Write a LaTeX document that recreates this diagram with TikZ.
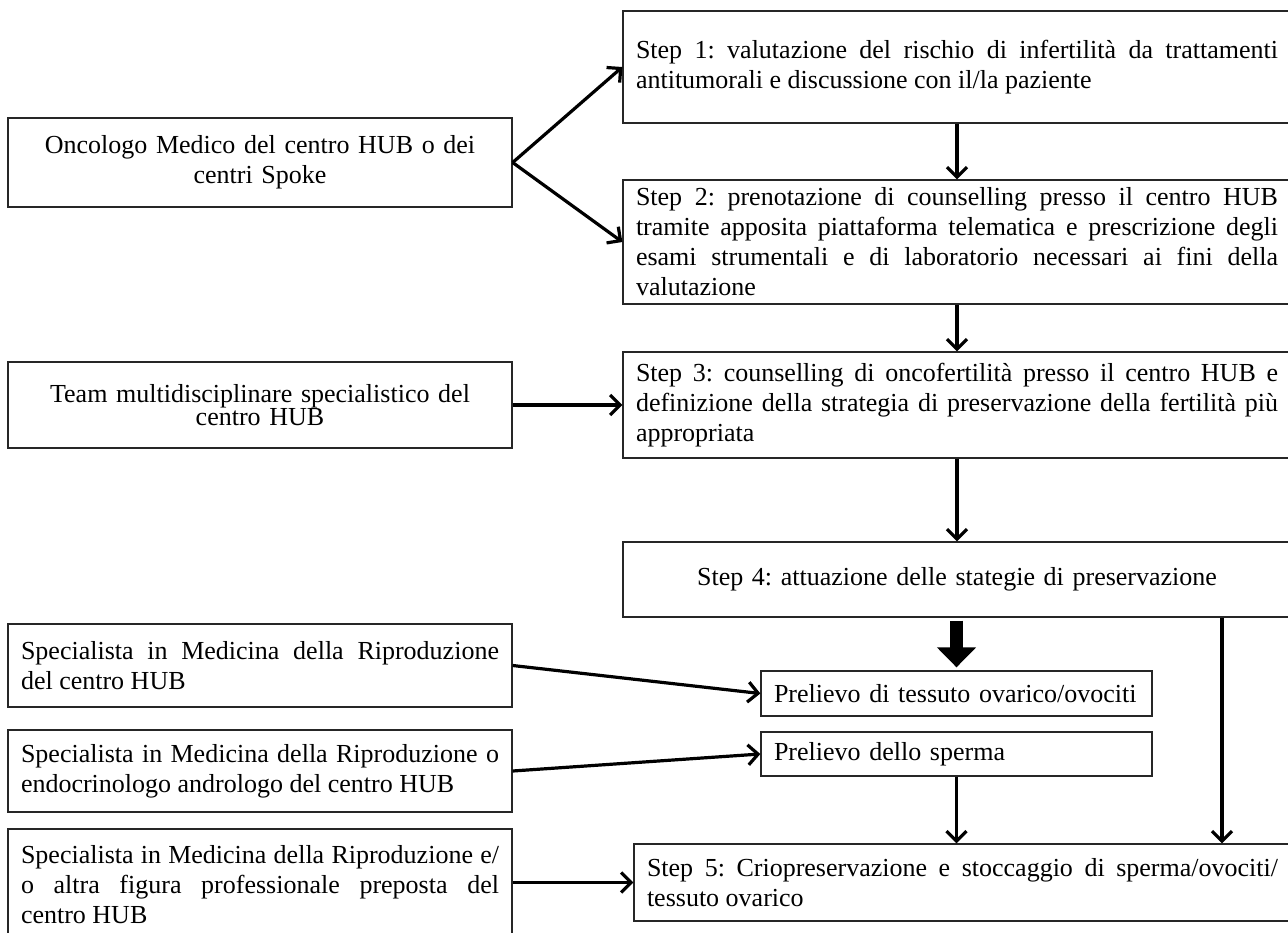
\documentclass[tikz,border=0pt]{standalone}
\usepackage{fontspec}
\setmainfont{Liberation Serif}
\usetikzlibrary{arrows.meta}
\frenchspacing

\begin{document}
\begin{tikzpicture}[x=1pt,y=-1pt,>={Straight Barb[length=10pt,width=20pt]},
  every node/.style={font=\fontsize{26}{30}\selectfont},
  box/.style={draw=black!85,line width=1.3pt,inner xsep=13pt,inner ysep=0pt,align=justify},
  arr/.style={->,line width=3.2pt}]
  \useasboundingbox (0,0) rectangle (1288,932);
  % steps
  \node[box,text width=642pt,minimum height=112pt] (step1) at (957,67)
    {Step 1: valutazione del rischio di infertilità da trattamenti\linebreak antitumorali e discussione con il/la paziente};
  \node[box,text width=642pt,minimum height=124pt] (step2) at (957,242)
    {Step 2: prenotazione di counselling presso il centro HUB\linebreak tramite apposita piattaforma telematica e prescrizione degli\linebreak esami strumentali e di laboratorio necessari ai fini della\linebreak valutazione};
  \node[box,text width=642pt,minimum height=106pt] (step3) at (957,405)
    {Step 3: counselling di oncofertilità presso il centro HUB e\linebreak definizione della strategia di preservazione della fertilità più\linebreak appropriata};
  \node[box,align=center,text width=642pt,minimum height=75pt] (step4) at (957,579.5)
    {Step 4: attuazione delle stategie di preservazione};
  \node[box,align=left,text width=365pt,minimum height=45pt] (prel1) at (956.5,693.5)
    {Prelievo di tessuto ovarico/ovociti};
  \node[box,align=left,text width=365pt,minimum height=44pt] (prel2) at (956.5,754)
    {Prelievo dello sperma};
  \node[box,text width=631pt,minimum height=77pt] (step5) at (962.5,882.5)
    {Step 5: Criopreservazione e stoccaggio di sperma/ovociti/\linebreak tessuto ovarico};
  % figures on the left
  \node[box,align=center,text width=478pt,minimum height=89pt] (onc) at (260,162.5)
    {Oncologo Medico del centro HUB o dei\\centri Spoke};
  \node[box,align=center,text width=478pt,minimum height=86pt,font=\fontsize{26}{22}\selectfont] (team) at (260,405)
    {Team multidisciplinare specialistico del\\centro HUB};
  \node[box,text width=478pt,minimum height=83pt] (spec1) at (260,665.5)
    {Specialista in Medicina della Riproduzione\linebreak del centro HUB};
  \node[box,text width=478pt,minimum height=82pt] (spec2) at (260,771)
    {Specialista in Medicina della Riproduzione o\linebreak endocrinologo andrologo del centro HUB};
  \node[box,text width=478pt,minimum height=111pt] (spec3) at (260,884.5)
    {Specialista in Medicina della Riproduzione e/\linebreak o altra figura professionale preposta del\linebreak centro HUB};
  \coordinate (s4r) at ([xshift=265pt]step4.south);
  % connectors
  \draw[arr] (onc.east) -- (step1.west);
  \draw[arr] (onc.east) -- (step2.west);
  \draw[arr] (step1.south) -- (step2.north);
  \draw[arr] (step2.south) -- (step3.north);
  \draw[arr] (team.east) -- (step3.west);
  \draw[arr] (step3.south) -- (step4.north);
  \draw[line width=13pt,-{Triangle[width=38pt,length=20pt]},shorten <=3pt,shorten >=3pt] (prel1.north |- step4.south) -- (prel1.north);
  \draw[arr] (spec1.east) -- (prel1.west);
  \draw[arr] (spec2.east) -- (prel2.west);
  \draw[arr] (prel2.south) -- (prel2.south |- step5.north);
  \draw[arr] (s4r) -- (s4r |- step5.north);
  \draw[arr] (spec3.east |- step5.west) -- (step5.west);
\end{tikzpicture}
\end{document}
